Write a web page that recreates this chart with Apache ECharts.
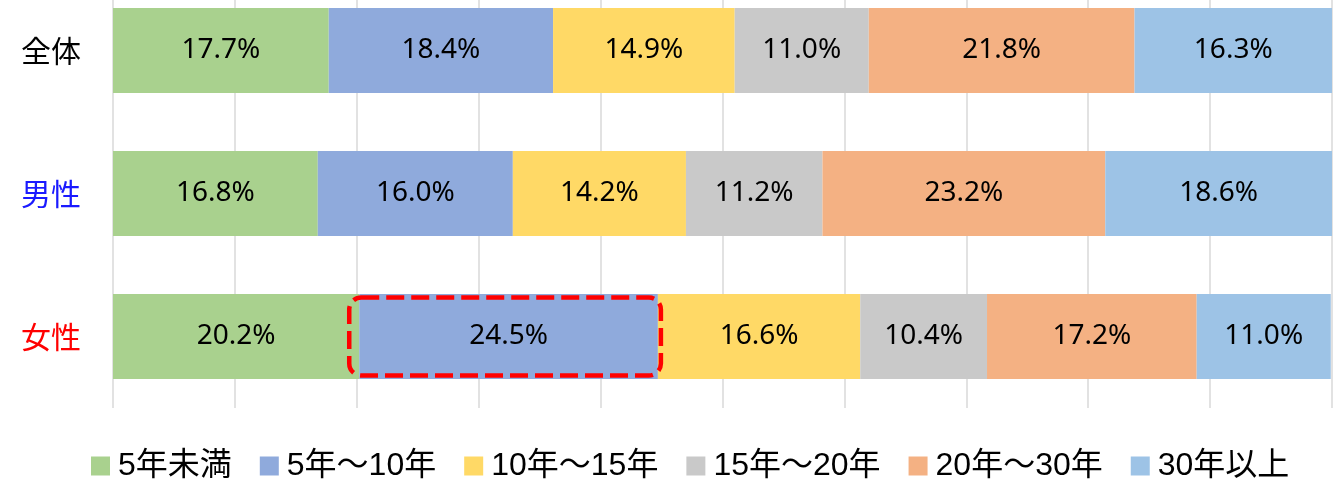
<!DOCTYPE html>
<html>
<head>
<meta charset="utf-8">
<script src="https://cdn.jsdelivr.net/npm/echarts@6/dist/echarts.min.js"></script>
<style>
  html, body { margin: 0; padding: 0; background: #fff; }
  #chart { width: 1340px; height: 481px; }
</style>
</head>
<body>
<div id="chart"></div>
<script>
// 勤続年数の構成比 (%)
const categories = ['全体', '男性', '女性']
const seriesNames = ['5年未満', '5年～10年', '10年～15年', '15年～20年', '20年～30年', '30年以上']
const lt5 = [17.7, 16.8, 20.2]
const y5to10 = [18.4, 16.0, 24.5]
const y10to15 = [14.9, 14.2, 16.6]
const y15to20 = [11.0, 11.2, 10.4]
const y20to30 = [21.8, 23.2, 17.2]
const ge30 = [16.3, 18.6, 11.0]
const seriesValues = [lt5, y5to10, y10to15, y15to20, y20to30, ge30]

const colors = ['#A9D18E', '#8FAADC', '#FFD966', '#C9C9C9', '#F4B183', '#9DC3E6']
const labelColors = { '全体': '#000000', '男性': '#1a1aff', '女性': '#ff0000' }

// 女性の「5年～10年」を赤い点線で囲む
const highlightCategory = '女性'
const highlightSeries = 1

const chart = echarts.init(document.getElementById('chart'))

const option = {
  animation: false,
  color: colors,
  grid: {
    left: 113,
    right: 8,
    top: -21,
    height: 429,
    outerBoundsMode: 'none',
    containLabel: false,
  },
  legend: {
    data: seriesNames,
    top: 445,
    left: 86,
    icon: 'rect',
    itemWidth: 19,
    itemHeight: 19,
    itemGap: 28,
    textStyle: {
      fontFamily: '"Liberation Sans", "Noto Sans CJK JP", sans-serif',
      fontSize: 32,
      color: '#000',
      padding: [0, 0, 0, 3],
    },
  },
  xAxis: {
    type: 'value',
    min: 0,
    max: 100,
    interval: 10,
    axisLabel: { show: false },
    axisTick: { show: false },
    axisLine: { show: false },
    splitLine: {
      show: true,
      lineStyle: { color: '#D9D9D9', width: 1.5 },
    },
  },
  yAxis: {
    type: 'category',
    inverse: true,
    data: categories,
    axisTick: { show: false },
    axisLine: { show: false },
    axisLabel: {
      margin: 32,
      fontSize: 30,
      fontFamily: '"Noto Sans CJK JP", sans-serif',
      color: (value) => labelColors[value] || '#000',
    },
  },
  series: seriesNames.map((name, i) => ({
    name,
    type: 'bar',
    stack: 'total',
    barWidth: 85,
    data: seriesValues[i],
    label: {
      show: true,
      position: 'inside',
      color: '#000',
      fontSize: 28,
      fontFamily: '"Noto Sans", sans-serif',
      formatter: (p) => p.value.toFixed(1) + '%',
    },
  })),
}

chart.setOption(option)

// 点線枠の位置は軸のスケールから求める
const idx = categories.indexOf(highlightCategory)
let start = 0
for (let i = 0; i < highlightSeries; i++) start += seriesValues[i][idx]
const end = start + seriesValues[highlightSeries][idx]
const p0 = chart.convertToPixel({ gridIndex: 0 }, [start, highlightCategory])
const p1 = chart.convertToPixel({ gridIndex: 0 }, [end, highlightCategory])

chart.setOption({
  graphic: [{
    type: 'rect',
    shape: {
      x: p0[0] - 10,
      y: p0[1] - 39,
      width: p1[0] - p0[0] + 13,
      height: 78,
      r: 12,
    },
    style: {
      fill: 'none',
      stroke: '#FF0000',
      lineWidth: 4.5,
      lineDash: [18, 7],
    },
    z: 100,
  }],
})
</script>
</body>
</html>
